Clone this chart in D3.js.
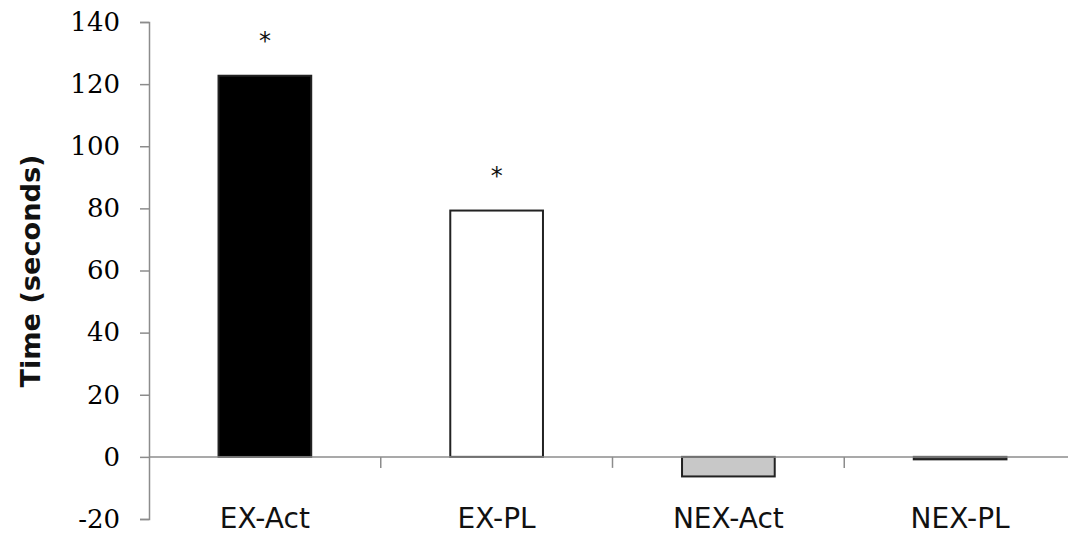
<!DOCTYPE html>
<html>
<head>
<meta charset="utf-8">
<script src="https://cdn.jsdelivr.net/npm/d3@7"></script>
<style>
  html, body { margin: 0; padding: 0; background: #fff; }
  svg { display: block; }
</style>
</head>
<body>
<svg id="chart" width="1068" height="542"></svg>
<script>
const categories = ["EX-Act", "EX-PL", "NEX-Act", "NEX-PL"];
const values = [122.7, 79.3, -6.3, -0.8];
const fills = ["#000000", "#ffffff", "#c8c8c8", "#444444"];
const significant = [true, true, false, false];
const yTicks = [-20, 0, 20, 40, 60, 80, 100, 120, 140];
const yTitle = "Time (seconds)";

(function () {
const svg = d3.select("#chart");
const mLeft = 149, mRight = 1076, mTop = 22, mBottom = 519;

const x = d3.scaleBand().domain(categories).range([mLeft, mRight]).paddingInner(0.6).paddingOuter(0.3);
const y = d3.scaleLinear().domain([-20, 140]).range([mBottom, mTop]);

const axisColor = "#8c8c8c";

// Bars
svg.append("g").selectAll("rect").data(categories).join("rect")
  .attr("x", d => x(d))
  .attr("width", x.bandwidth())
  .attr("y", (d, i) => Math.min(y(values[i]), y(0)))
  .attr("height", (d, i) => Math.max(Math.abs(y(values[i]) - y(0)), 1.5))
  .attr("fill", (d, i) => fills[i])
  .attr("stroke", "#222")
  .attr("stroke-width", 2);

// Y axis
const yAxis = svg.append("g")
  .attr("transform", `translate(${mLeft},0)`)
  .call(d3.axisLeft(y).tickValues(yTicks).tickSize(9).tickPadding(20).tickFormat(d => String(d)));
yAxis.select(".domain").attr("stroke", axisColor).attr("stroke-width", 1.5);
yAxis.selectAll(".tick line").attr("stroke", axisColor).attr("stroke-width", 1.5);
yAxis.selectAll(".tick text")
  .attr("font-family", "DejaVu Serif")
  .attr("font-size", 26)
  .attr("fill", "#000");

// X axis at zero
const xAxisG = svg.append("g").attr("transform", `translate(0,${y(0)})`);
xAxisG.append("line")
  .attr("x1", mLeft).attr("x2", 1068).attr("y1", 0).attr("y2", 0)
  .attr("stroke", axisColor).attr("stroke-width", 1.5);
const step = x.step();
const seps = categories.slice(1).map(c => x(c) - (step - x.bandwidth()) / 2);
xAxisG.selectAll("line.sep").data(seps).join("line")
  .attr("class", "sep")
  .attr("x1", d => d).attr("x2", d => d)
  .attr("y1", 0).attr("y2", 11)
  .attr("stroke", axisColor).attr("stroke-width", 1.5);

// Category labels
svg.append("g").selectAll("text").data(categories).join("text")
  .attr("x", d => x(d) + x.bandwidth() / 2)
  .attr("y", 528)
  .attr("text-anchor", "middle")
  .attr("font-family", "DejaVu Sans")
  .attr("font-size", 28)
  .attr("fill", "#111")
  .text(d => d);

// Significance asterisks
svg.append("g").selectAll("text").data(categories.filter((d, i) => significant[i])).join("text")
  .attr("x", d => x(d) + x.bandwidth() / 2)
  .attr("y", d => y(values[categories.indexOf(d)]) - 27)
  .attr("text-anchor", "middle")
  .attr("font-family", "DejaVu Sans")
  .attr("font-size", 24)
  .attr("fill", "#111")
  .text("*");

// Y title
svg.append("text")
  .attr("transform", "translate(40,271) rotate(-90)")
  .attr("text-anchor", "middle")
  .attr("font-family", "DejaVu Sans")
  .attr("font-weight", "bold")
  .attr("font-size", 26)
  .attr("textLength", 233)
  .attr("lengthAdjust", "spacingAndGlyphs")
  .attr("fill", "#111")
  .text(yTitle);
})();
</script>
</body>
</html>
